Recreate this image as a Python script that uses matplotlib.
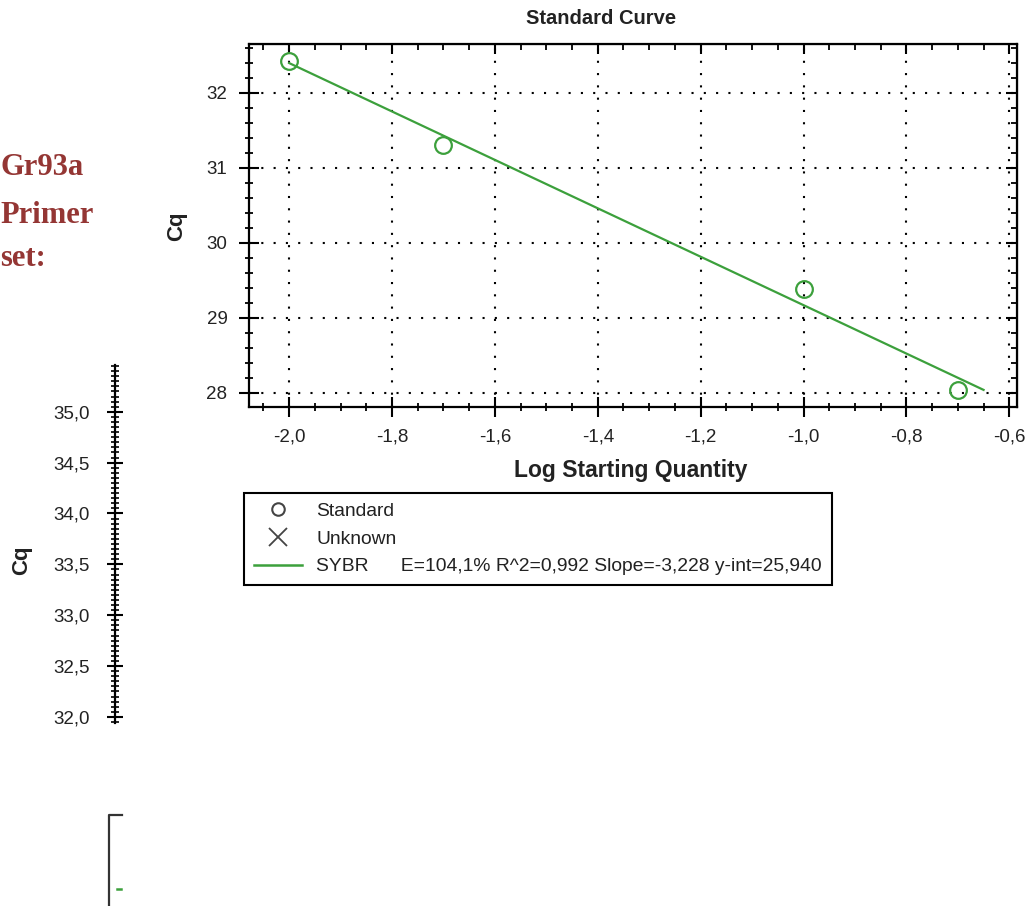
import matplotlib
matplotlib.use('Agg')
import matplotlib.pyplot as plt
from matplotlib.lines import Line2D
from matplotlib.ticker import MultipleLocator, FuncFormatter

# standard curve samples (log quantity vs Cq)
log_qty = [-2.0, -1.7, -1.0, -0.7]
cq = [32.42, 31.30, 29.39, 28.04]

# regression reported for the SYBR fit
slope = -3.228
y_int = 25.940
fit_x = [-2.0, -0.65]
fit_label = 'SYBR      E=104,1% R^2=0,992 Slope=-3,228 y-int=25,940'

side_title = ['Gr93a', 'Primer', 'set:']

W, H = 1033, 906
GREEN = '#3ca03c'
TXT = '#222222'

plt.rcParams['font.family'] = ['Liberation Sans', 'DejaVu Sans']
plt.rcParams['axes.unicode_minus'] = False


def comma(fmt):
    return FuncFormatter(lambda v, p: (fmt % v).replace('.', ','))


def box(x0, y0, x1, y1):
    # pixel box -> figure fraction rect
    return [x0 / W, 1 - y1 / H, (x1 - x0) / W, (y1 - y0) / H]


fig = plt.figure(figsize=(W / 100, H / 100), dpi=100)

# ---- main standard curve ----
ax = fig.add_axes(box(249, 44, 1017, 407))
ax.set_xlim(-2.078, -0.585)
ax.set_ylim(27.81, 32.65)

ax.plot(fit_x, [slope * x + y_int for x in fit_x], color=GREEN, lw=1.6, zorder=3)
ax.plot(log_qty, cq, 'o', mfc='none', mec=GREEN, ms=12, mew=1.6, zorder=4)

ax.xaxis.set_major_locator(MultipleLocator(0.2))
ax.xaxis.set_minor_locator(MultipleLocator(0.05))
ax.yaxis.set_major_locator(MultipleLocator(1))
ax.yaxis.set_minor_locator(MultipleLocator(0.2))
ax.xaxis.set_major_formatter(comma('%.1f'))
ax.yaxis.set_major_formatter(comma('%d'))
ax.grid(True, which='major', color='black', lw=1.5, linestyle=(0, (1, 4.9)))

for s in ax.spines.values():
    s.set_linewidth(1.6)
ax.tick_params(which='major', direction='inout', length=14, width=1.5,
               labelsize=13.5, labelcolor=TXT, pad=8.5)
ax.tick_params(which='minor', direction='inout', length=6, width=1.3)

top = ax.secondary_xaxis('top')
top.xaxis.set_major_locator(MultipleLocator(0.2))
top.xaxis.set_minor_locator(MultipleLocator(0.05))
top.tick_params(which='major', direction='in', length=7, width=1.5, labeltop=False)
top.tick_params(which='minor', direction='in', length=4, width=1.3)
right = ax.secondary_yaxis('right')
right.yaxis.set_major_locator(MultipleLocator(1))
right.yaxis.set_minor_locator(MultipleLocator(0.2))
right.tick_params(which='major', direction='in', length=8, width=1.5, labelright=False)
right.tick_params(which='minor', direction='in', length=4, width=1.3)

fig.text(601 / W, 1 - 19 / H, 'Standard Curve', ha='center', va='center',
         fontsize=14.5, fontweight='bold', color=TXT)
fig.text(631 / W, 1 - 471 / H, 'Log Starting Quantity', ha='center', va='center',
         fontsize=16.5, fontweight='bold', color=TXT)
fig.text(177 / W, 1 - 226 / H, 'Cq', ha='center', va='center', rotation=90,
         fontsize=16, fontweight='bold', color=TXT)

handles = [
    Line2D([], [], ls='none', marker='o', mfc='none', mec='#444444', mew=1.5, ms=9,
           label='Standard'),
    Line2D([], [], ls='none', marker='x', color='#444444', mew=1.3, ms=13,
           label='Unknown'),
    Line2D([], [], color=GREEN, lw=1.8, label=fit_label),
]
leg = fig.legend(handles=handles, loc='upper left',
                 bbox_to_anchor=(244 / W, 1 - 493 / H), borderaxespad=0,
                 fontsize=13.9, fancybox=False, framealpha=1, edgecolor='black',
                 handlelength=2.5, handletextpad=0.75, labelspacing=0.52,
                 borderpad=0.5)
leg.get_frame().set_linewidth(1.5)
for t in leg.get_texts():
    t.set_color(TXT)

# ---- neighbouring chart, mostly out of frame ----
ax2 = fig.add_axes(box(115, 365, 130, 723))
ax2.set_ylim(31.94, 35.46)
for k in ('top', 'right', 'bottom'):
    ax2.spines[k].set_visible(False)
ax2.spines['left'].set_linewidth(1.6)
ax2.set_xticks([])
ax2.yaxis.set_major_locator(MultipleLocator(0.5))
ax2.yaxis.set_minor_locator(MultipleLocator(0.05))
ax2.yaxis.set_major_formatter(comma('%.1f'))
ax2.tick_params(which='major', direction='inout', length=12, width=1.5,
                labelsize=13.5, labelcolor=TXT, pad=12)
ax2.tick_params(which='minor', direction='inout', length=6, width=1.2)
ax2.patch.set_alpha(0)
fig.text(22 / W, 1 - 560 / H, 'Cq', ha='center', va='center', rotation=90,
         fontsize=16, fontweight='bold', color=TXT)

# legend box corner of that chart
fig.add_artist(Line2D([109 / W, 109 / W, 122 / W], [0, 1 - 815 / H, 1 - 815 / H],
                      color='#333333', lw=1.6))
fig.add_artist(Line2D([117 / W, 121 / W], [1 - 889 / H, 1 - 889 / H],
                      color=GREEN, lw=1.8))

# heading text at the left edge
for txt, xr, yb in zip(side_title, [84, 94, 46], [175, 223, 266]):
    fig.text(xr / W, 1 - yb / H, txt, ha='right', va='baseline', fontsize=22,
             fontweight='bold', color='#943634', family='Liberation Serif')

fig.savefig('out.png', dpi=100)
